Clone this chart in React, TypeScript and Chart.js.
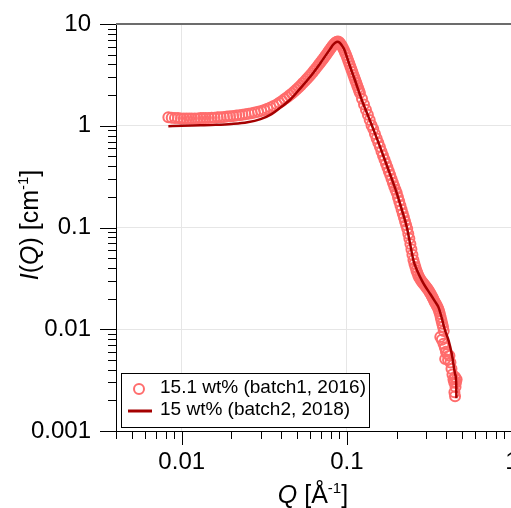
import React, { useEffect, useRef } from "react";
import { Chart, registerables } from "chart.js";

Chart.register(...registerables);

// ---------- data ----------
const scatterQ = [
  0.0083, 0.0087, 0.0091, 0.0095, 0.0099, 0.0103, 0.0107, 0.0111, 0.0115, 0.012,
  0.0125, 0.013, 0.0135, 0.014, 0.0146, 0.0152, 0.0158, 0.0165, 0.0172, 0.018,
  0.0188, 0.0196, 0.0205, 0.0214, 0.0223, 0.0233, 0.0243, 0.0254, 0.0265, 0.0277,
  0.029, 0.0303, 0.0316, 0.033, 0.0345, 0.036, 0.0376, 0.039, 0.0405, 0.042,
  0.0435, 0.045, 0.0465, 0.048, 0.0495, 0.051, 0.0525, 0.054, 0.0555, 0.057,
  0.0585, 0.06, 0.0615, 0.063, 0.0645, 0.066, 0.0675, 0.069, 0.0705, 0.072,
  0.0735, 0.075, 0.0765, 0.078, 0.0795, 0.081, 0.0825, 0.084, 0.0855, 0.087,
  0.0885, 0.09, 0.0915, 0.093, 0.0945, 0.096, 0.0975, 0.099, 0.1005, 0.102,
  0.1035, 0.105, 0.1065, 0.108, 0.1095, 0.111, 0.1125, 0.114, 0.1155, 0.117,
  0.1185, 0.12, 0.1235, 0.127, 0.1305, 0.134, 0.1375, 0.141, 0.1445, 0.148,
  0.1515, 0.155, 0.1585, 0.162, 0.1655, 0.169, 0.1725, 0.176, 0.1795, 0.183,
  0.1865, 0.19, 0.1935, 0.197, 0.2005, 0.204, 0.2075, 0.211, 0.2145, 0.218,
  0.2215, 0.225, 0.2285, 0.232, 0.2355, 0.239, 0.2425, 0.246, 0.2495, 0.253,
  0.2565, 0.26, 0.2635, 0.267, 0.2705, 0.274, 0.278, 0.282, 0.286, 0.29,
  0.294, 0.298, 0.302, 0.306, 0.31, 0.314, 0.318, 0.322, 0.326, 0.33,
  0.334, 0.338, 0.342, 0.346, 0.35, 0.354, 0.358, 0.362, 0.366, 0.37,
  0.374, 0.378, 0.382, 0.386, 0.368, 0.376, 0.385, 0.392, 0.398, 0.394,
  0.405, 0.41, 0.418, 0.424, 0.43, 0.436, 0.442, 0.447, 0.452, 0.458,
  0.462, 0.455, 0.448, 0.452,
];
const scatterI = [
  1.21, 1.2, 1.19, 1.19, 1.18, 1.18, 1.18, 1.18, 1.18, 1.18,
  1.18, 1.19, 1.19, 1.19, 1.19, 1.2, 1.2, 1.21, 1.21, 1.22,
  1.23, 1.24, 1.25, 1.26, 1.27, 1.28, 1.3, 1.31, 1.33, 1.35,
  1.37, 1.4, 1.43, 1.47, 1.51, 1.56, 1.62, 1.68, 1.75, 1.83,
  1.91, 1.99, 2.08, 2.17, 2.27, 2.38, 2.49, 2.61, 2.73, 2.86,
  3.0, 3.14, 3.29, 3.45, 3.62, 3.79, 3.97, 4.16, 4.36, 4.56,
  4.77, 4.99, 5.22, 5.45, 5.7, 5.94, 6.17, 6.4, 6.58, 6.7,
  6.72, 6.6, 6.4, 6.15, 5.85, 5.55, 5.25, 4.95, 4.65, 4.36,
  4.08, 3.82, 3.59, 3.37, 3.16, 2.98, 2.8, 2.64, 2.49, 2.35,
  2.22, 2.1, 1.84, 1.62, 1.44, 1.28, 1.14, 1.01, 0.93, 0.83,
  0.75, 0.68, 0.62, 0.56, 0.51, 0.465, 0.425, 0.39, 0.357, 0.328,
  0.3, 0.276, 0.255, 0.235, 0.218, 0.198, 0.181, 0.165, 0.15, 0.137,
  0.126, 0.115, 0.106, 0.097, 0.087, 0.078, 0.069, 0.061, 0.054, 0.048,
  0.044, 0.041, 0.038, 0.036, 0.034, 0.0325, 0.0312, 0.03, 0.0292, 0.0283,
  0.0275, 0.0267, 0.026, 0.0253, 0.0246, 0.0238, 0.023, 0.0222, 0.0214, 0.0206,
  0.0198, 0.019, 0.0183, 0.0177, 0.0171, 0.0165, 0.0158, 0.015, 0.0141, 0.0131,
  0.0122, 0.0113, 0.0106, 0.0096, 0.0084, 0.0079, 0.0072, 0.0066, 0.006, 0.0051,
  0.0057, 0.005, 0.0055, 0.0047, 0.0041, 0.0036, 0.0032, 0.003, 0.0034, 0.003,
  0.0032, 0.0027, 0.0024, 0.0022,
];

const fitQ = [
  0.0083, 0.01, 0.013, 0.016, 0.02, 0.025, 0.03, 0.035, 0.0394, 0.0453,
  0.0521, 0.06, 0.0689, 0.0793, 0.0825, 0.085, 0.0877, 0.0905, 0.093, 0.096,
  0.1, 0.1047, 0.112, 0.1233, 0.132, 0.142, 0.155, 0.166, 0.176, 0.1915,
  0.201, 0.215, 0.231, 0.242, 0.2533, 0.268, 0.2848, 0.3, 0.32, 0.34,
  0.359, 0.375, 0.391, 0.4136, 0.432, 0.453, 0.4595, 0.4605,
];
const fitI = [
  0.99, 1.0, 1.01, 1.02, 1.04, 1.08, 1.16, 1.3, 1.5, 1.8,
  2.32, 3.03, 4.1, 5.7, 6.25, 6.55, 6.7, 6.55, 6.2, 5.7,
  4.76, 3.8, 2.8, 1.78, 1.35, 1.0, 0.69, 0.51, 0.393, 0.27,
  0.215, 0.15, 0.1, 0.068, 0.0473, 0.037, 0.0301, 0.026, 0.0222, 0.019,
  0.0164, 0.013, 0.01, 0.0077, 0.0057, 0.0036, 0.0029, 0.0021,
];

const seriesNames = ["15.1 wt% (batch1, 2016)", "15 wt% (batch2, 2018)"];
const xTickLabels = ["0.01", "0.1", "1"];
const yTickLabels = ["10", "1", "0.1", "0.01", "0.001"];
const xRange = [0.004, 1];
const yRange = [0.001, 10];

// ---------- styling ----------
const FONT = '"Liberation Sans", Arial, Helvetica, sans-serif';
const CIRCLE = "rgb(255,108,108)";
const FITCOL = "rgb(165,0,0)";

const isDecade = (v: number) => Math.abs(Math.log10(v) - Math.round(Math.log10(v))) < 1e-6;

function logTicks(min: number, max: number) {
  const out: number[] = [];
  const e0 = Math.floor(Math.log10(min) + 1e-9);
  const e1 = Math.ceil(Math.log10(max) - 1e-9);
  for (let e = e0; e <= e1; e++) {
    for (let m = 1; m <= 9; m++) {
      const v = parseFloat((m * Math.pow(10, e)).toPrecision(6));
      if (v >= min * (1 - 1e-9) && v <= max * (1 + 1e-9)) out.push(v);
    }
  }
  return out;
}

function labelFor(v: number, labels: string[]) {
  const hit = labels.find((l) => Math.abs(parseFloat(l) - v) / v < 1e-6);
  return hit ?? "";
}

type Piece = { t: string; italic?: boolean; sup?: boolean };

function drawPieces(ctx: CanvasRenderingContext2D, pieces: Piece[], size: number, supSize: number) {
  const fontOf = (p: Piece) =>
    `${p.italic ? "italic " : ""}${p.sup ? supSize : size}px ${FONT}`;
  let total = 0;
  pieces.forEach((p) => {
    ctx.font = fontOf(p);
    total += ctx.measureText(p.t).width;
  });
  let x = -total / 2;
  ctx.textAlign = "left";
  ctx.textBaseline = "alphabetic";
  pieces.forEach((p) => {
    ctx.font = fontOf(p);
    ctx.fillText(p.t, x, p.sup ? -10 : 0);
    x += ctx.measureText(p.t).width;
  });
}

const decorPlugin = {
  id: "decor",
  afterDraw(chart: any) {
    const ctx: CanvasRenderingContext2D = chart.ctx;
    const { left, right, top, bottom } = chart.chartArea;
    const xs = chart.scales.x;
    const ys = chart.scales.y;
    ctx.save();

    // top frame line
    ctx.strokeStyle = "#6c6c6c";
    ctx.lineWidth = 2;
    ctx.beginPath();
    ctx.moveTo(left, top);
    ctx.lineTo(right + 2, top);
    ctx.stroke();

    // tick marks
    ctx.strokeStyle = "#000";
    ctx.lineWidth = 1;
    ctx.beginPath();
    xs.ticks.forEach((t: any) => {
      const px = Math.round(xs.getPixelForValue(t.value)) + 0.5;
      const len = isDecade(t.value) ? 14 : 8;
      ctx.moveTo(px, bottom);
      ctx.lineTo(px, bottom + len);
    });
    ys.ticks.forEach((t: any) => {
      const py = Math.round(ys.getPixelForValue(t.value)) + 0.5;
      const len = isDecade(t.value) ? 16 : 8;
      ctx.moveTo(left, py);
      ctx.lineTo(left - len, py);
    });
    ctx.stroke();

    // legend box
    const lx = 121.5, ly = 373.5, lw = 248, lh = 54;
    ctx.fillStyle = "#fff";
    ctx.fillRect(lx, ly, lw, lh);
    ctx.strokeStyle = "#000";
    ctx.lineWidth = 1;
    ctx.strokeRect(lx, ly, lw, lh);
    ctx.strokeStyle = CIRCLE;
    ctx.lineWidth = 2;
    ctx.beginPath();
    ctx.arc(139, 389, 5, 0, Math.PI * 2);
    ctx.stroke();
    ctx.strokeStyle = FITCOL;
    ctx.lineWidth = 3;
    ctx.beginPath();
    ctx.moveTo(128, 411);
    ctx.lineTo(152, 411);
    ctx.stroke();
    ctx.fillStyle = "#000";
    ctx.font = `19px ${FONT}`;
    ctx.textAlign = "left";
    ctx.textBaseline = "middle";
    ctx.fillText(seriesNames[0], 160, 388);
    ctx.fillText(seriesNames[1], 160, 410);

    // x title
    ctx.save();
    ctx.translate(313, 503);
    drawPieces(ctx, [{ t: "Q", italic: true }, { t: " [Å" }, { t: "-1", sup: true }, { t: "]" }], 25, 15);
    ctx.restore();

    // y title
    ctx.save();
    ctx.translate(38, 225);
    ctx.rotate(-Math.PI / 2);
    drawPieces(
      ctx,
      [
        { t: "I", italic: true },
        { t: "(" },
        { t: "Q", italic: true },
        { t: ") [cm" },
        { t: "-1", sup: true },
        { t: "]" },
      ],
      25,
      15
    );
    ctx.restore();

    ctx.restore();
  },
};

export default function App() {
  const ref = useRef<HTMLCanvasElement | null>(null);

  useEffect(() => {
    if (!ref.current) return;
    const gridColor = (c: any) =>
      c.tick && isDecade(c.tick.value) ? "#e6e6e6" : "rgba(0,0,0,0)";
    const chart = new Chart(ref.current, {
      type: "scatter",
      data: {
        datasets: [
          {
            label: seriesNames[1],
            data: fitQ.map((q, i) => ({ x: q, y: fitI[i] })),
            showLine: true,
            borderColor: FITCOL,
            borderWidth: 2.5,
            pointRadius: 0,
            fill: false,
            cubicInterpolationMode: "monotone",
            order: 0,
          },
          {
            label: seriesNames[0],
            data: scatterQ.map((q, i) => ({ x: q, y: scatterI[i] })),
            showLine: false,
            pointRadius: 5,
            pointBorderWidth: 2,
            pointBorderColor: CIRCLE,
            pointBackgroundColor: "rgba(0,0,0,0)",
            order: 1,
          },
        ],
      },
      options: {
        animation: false,
        responsive: false,
        maintainAspectRatio: false,
        events: [],
        layout: { padding: { top: 24, right: 18, left: 0, bottom: 0 } },
        plugins: { legend: { display: false }, tooltip: { enabled: false } },
        scales: {
          x: {
            type: "logarithmic",
            min: xRange[0],
            max: xRange[1],
            afterBuildTicks: (s: any) => {
              s.ticks = logTicks(xRange[0], xRange[1]).map((v) => ({ value: v, major: isDecade(v) }));
            },
            afterFit: (s: any) => {
              s.height = 77;
            },
            grid: { color: gridColor, drawTicks: true, tickLength: 14, tickColor: "rgba(0,0,0,0)" },
            border: { display: true, color: "#000", width: 1 },
            ticks: {
              autoSkip: false,
              maxRotation: 0,
              minRotation: 0,
              padding: 3,
              color: "#000",
              font: { family: FONT, size: 24 },
              callback: (v: any) => labelFor(Number(v), xTickLabels),
            },
          },
          y: {
            type: "logarithmic",
            min: yRange[0],
            max: yRange[1],
            afterBuildTicks: (s: any) => {
              s.ticks = logTicks(yRange[0], yRange[1]).map((v) => ({ value: v, major: isDecade(v) }));
            },
            afterFit: (s: any) => {
              s.width = 116;
            },
            grid: { color: gridColor, drawTicks: true, tickLength: 16, tickColor: "rgba(0,0,0,0)" },
            border: { display: true, color: "#000", width: 1 },
            ticks: {
              autoSkip: false,
              padding: 9,
              color: "#000",
              font: { family: FONT, size: 24 },
              callback: (v: any) => labelFor(Number(v), yTickLabels),
            },
          },
        },
      },
      plugins: [decorPlugin],
    });
    return () => chart.destroy();
  }, []);

  return (
    <div
      style={{
        position: "absolute",
        left: 0,
        top: 0,
        width: 511,
        height: 508,
        overflow: "hidden",
        background: "#fff",
      }}
    >
      <canvas ref={ref} width={530} height={508} style={{ width: 530, height: 508, display: "block" }} />
    </div>
  );
}
